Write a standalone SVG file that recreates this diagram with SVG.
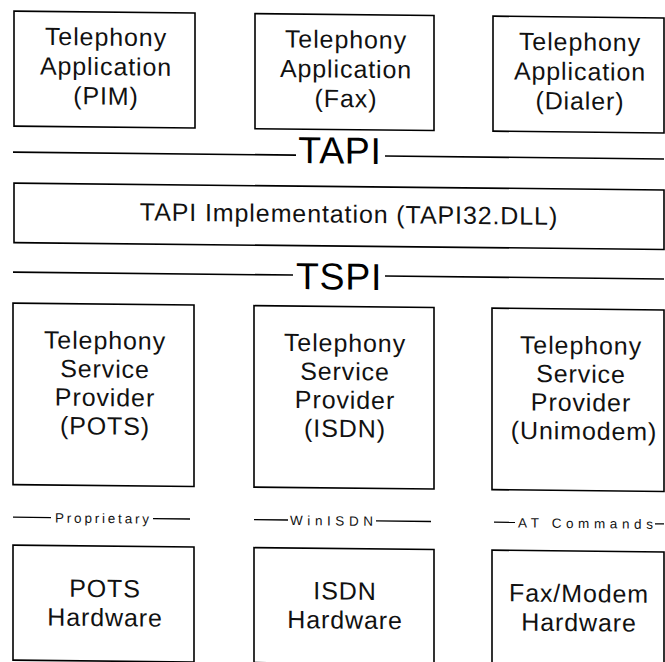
<svg xmlns="http://www.w3.org/2000/svg" width="665" height="662" viewBox="0 0 665 662">
  <style>
    .box { fill: #ffffff; stroke: #000000; stroke-width: 1.6; }
    .rule { stroke: #000000; stroke-width: 1.6; fill: none; }
    .thin { stroke: #000000; stroke-width: 1.3; fill: none; }
    .lbl { font-family: "Liberation Sans", Arial, sans-serif; font-size: 25px; letter-spacing: 0.9px; fill: #111111; text-anchor: middle; }
    .big { font-family: "Liberation Sans", Arial, sans-serif; font-size: 37.5px; letter-spacing: 0.7px; fill: #000000; text-anchor: middle; }
    .small { font-family: "Liberation Sans", Arial, sans-serif; font-size: 13.5px; fill: #111111; }
  </style>
  <rect width="665" height="662" fill="#ffffff"/>
  <g transform="skewY(0.6)">
    <!-- application layer -->
    <g id="app-pim">
      <rect class="box" x="14" y="11" width="181" height="115"/>
      <text class="lbl" x="106" y="44.5">Telephony</text>
      <text class="lbl" x="106" y="74">Application</text>
      <text class="lbl" x="106" y="103.5">(PIM)</text>
    </g>
    <g id="app-fax">
      <rect class="box" x="255" y="11" width="179" height="115"/>
      <text class="lbl" x="346" y="44.5">Telephony</text>
      <text class="lbl" x="346" y="74">Application</text>
      <text class="lbl" x="346" y="103.5">(Fax)</text>
    </g>
    <g id="app-dialer">
      <rect class="box" x="493" y="11" width="171" height="115"/>
      <text class="lbl" x="580" y="44.5">Telephony</text>
      <text class="lbl" x="580" y="74">Application</text>
      <text class="lbl" x="580" y="103.5">(Dialer)</text>
    </g>

    <!-- TAPI32.DLL -->
    <g id="tapi-impl">
      <rect class="box" x="14" y="183" width="650" height="59.5"/>
      <text class="lbl" x="349" y="219">TAPI Implementation (TAPI32.DLL)</text>
    </g>

    <!-- service providers -->
    <g id="sp-pots">
      <rect class="box" x="13" y="303" width="181" height="181.5"/>
      <text class="lbl" x="105" y="348">Telephony</text>
      <text class="lbl" x="105" y="376.5">Service</text>
      <text class="lbl" x="105" y="405">Provider</text>
      <text class="lbl" x="105" y="433.5">(POTS)</text>
    </g>
    <g id="sp-isdn">
      <rect class="box" x="254" y="303" width="180" height="181.5"/>
      <text class="lbl" x="345" y="348">Telephony</text>
      <text class="lbl" x="345" y="376.5">Service</text>
      <text class="lbl" x="345" y="405">Provider</text>
      <text class="lbl" x="345" y="433.5">(ISDN)</text>
    </g>
    <g id="sp-unimodem">
      <rect class="box" x="492" y="303" width="172" height="181.5"/>
      <text class="lbl" x="581" y="348">Telephony</text>
      <text class="lbl" x="581" y="376.5">Service</text>
      <text class="lbl" x="581" y="405">Provider</text>
      <text class="lbl" x="584" y="433.5">(Unimodem)</text>
    </g>

    <!-- hardware -->
    <g id="hw-pots">
      <rect class="box" x="13" y="545" width="181" height="115"/>
      <text class="lbl" x="105" y="596">POTS</text>
      <text class="lbl" x="105" y="625">Hardware</text>
    </g>
    <g id="hw-isdn">
      <rect class="box" x="254" y="545" width="180" height="115"/>
      <text class="lbl" x="345" y="596">ISDN</text>
      <text class="lbl" x="345" y="625">Hardware</text>
    </g>
    <g id="hw-faxmodem">
      <rect class="box" x="492" y="545" width="172" height="115"/>
      <text class="lbl" x="579" y="596">Fax/Modem</text>
      <text class="lbl" x="579" y="625">Hardware</text>
    </g>

    <!-- interface rules and their labels -->
    <g id="connectors">
      <line class="rule" x1="13" y1="152" x2="296" y2="152"/>
      <line class="rule" x1="385" y1="152" x2="664" y2="152"/>
      <text class="big" x="340" y="160">TAPI</text>

      <line class="rule" x1="13" y1="272" x2="293" y2="272"/>
      <line class="rule" x1="385" y1="272" x2="664" y2="272"/>
      <text class="big" x="339" y="286">TSPI</text>

      <line class="thin" x1="13" y1="517" x2="51" y2="517"/>
      <line class="thin" x1="153" y1="517" x2="190" y2="517"/>
      <text class="small" x="55" y="522" textLength="94" lengthAdjust="spacing">Proprietary</text>

      <line class="thin" x1="254" y1="517" x2="288" y2="517"/>
      <line class="thin" x1="376" y1="517" x2="431" y2="517"/>
      <text class="small" x="290" y="522" textLength="83" lengthAdjust="spacing">WinISDN</text>

      <line class="thin" x1="494" y1="517" x2="515" y2="517"/>
      <line class="thin" x1="655" y1="517" x2="664" y2="517"/>
      <text class="small" x="518" y="522" textLength="135" lengthAdjust="spacing">AT Commands</text>
    </g>
  </g>
</svg>
